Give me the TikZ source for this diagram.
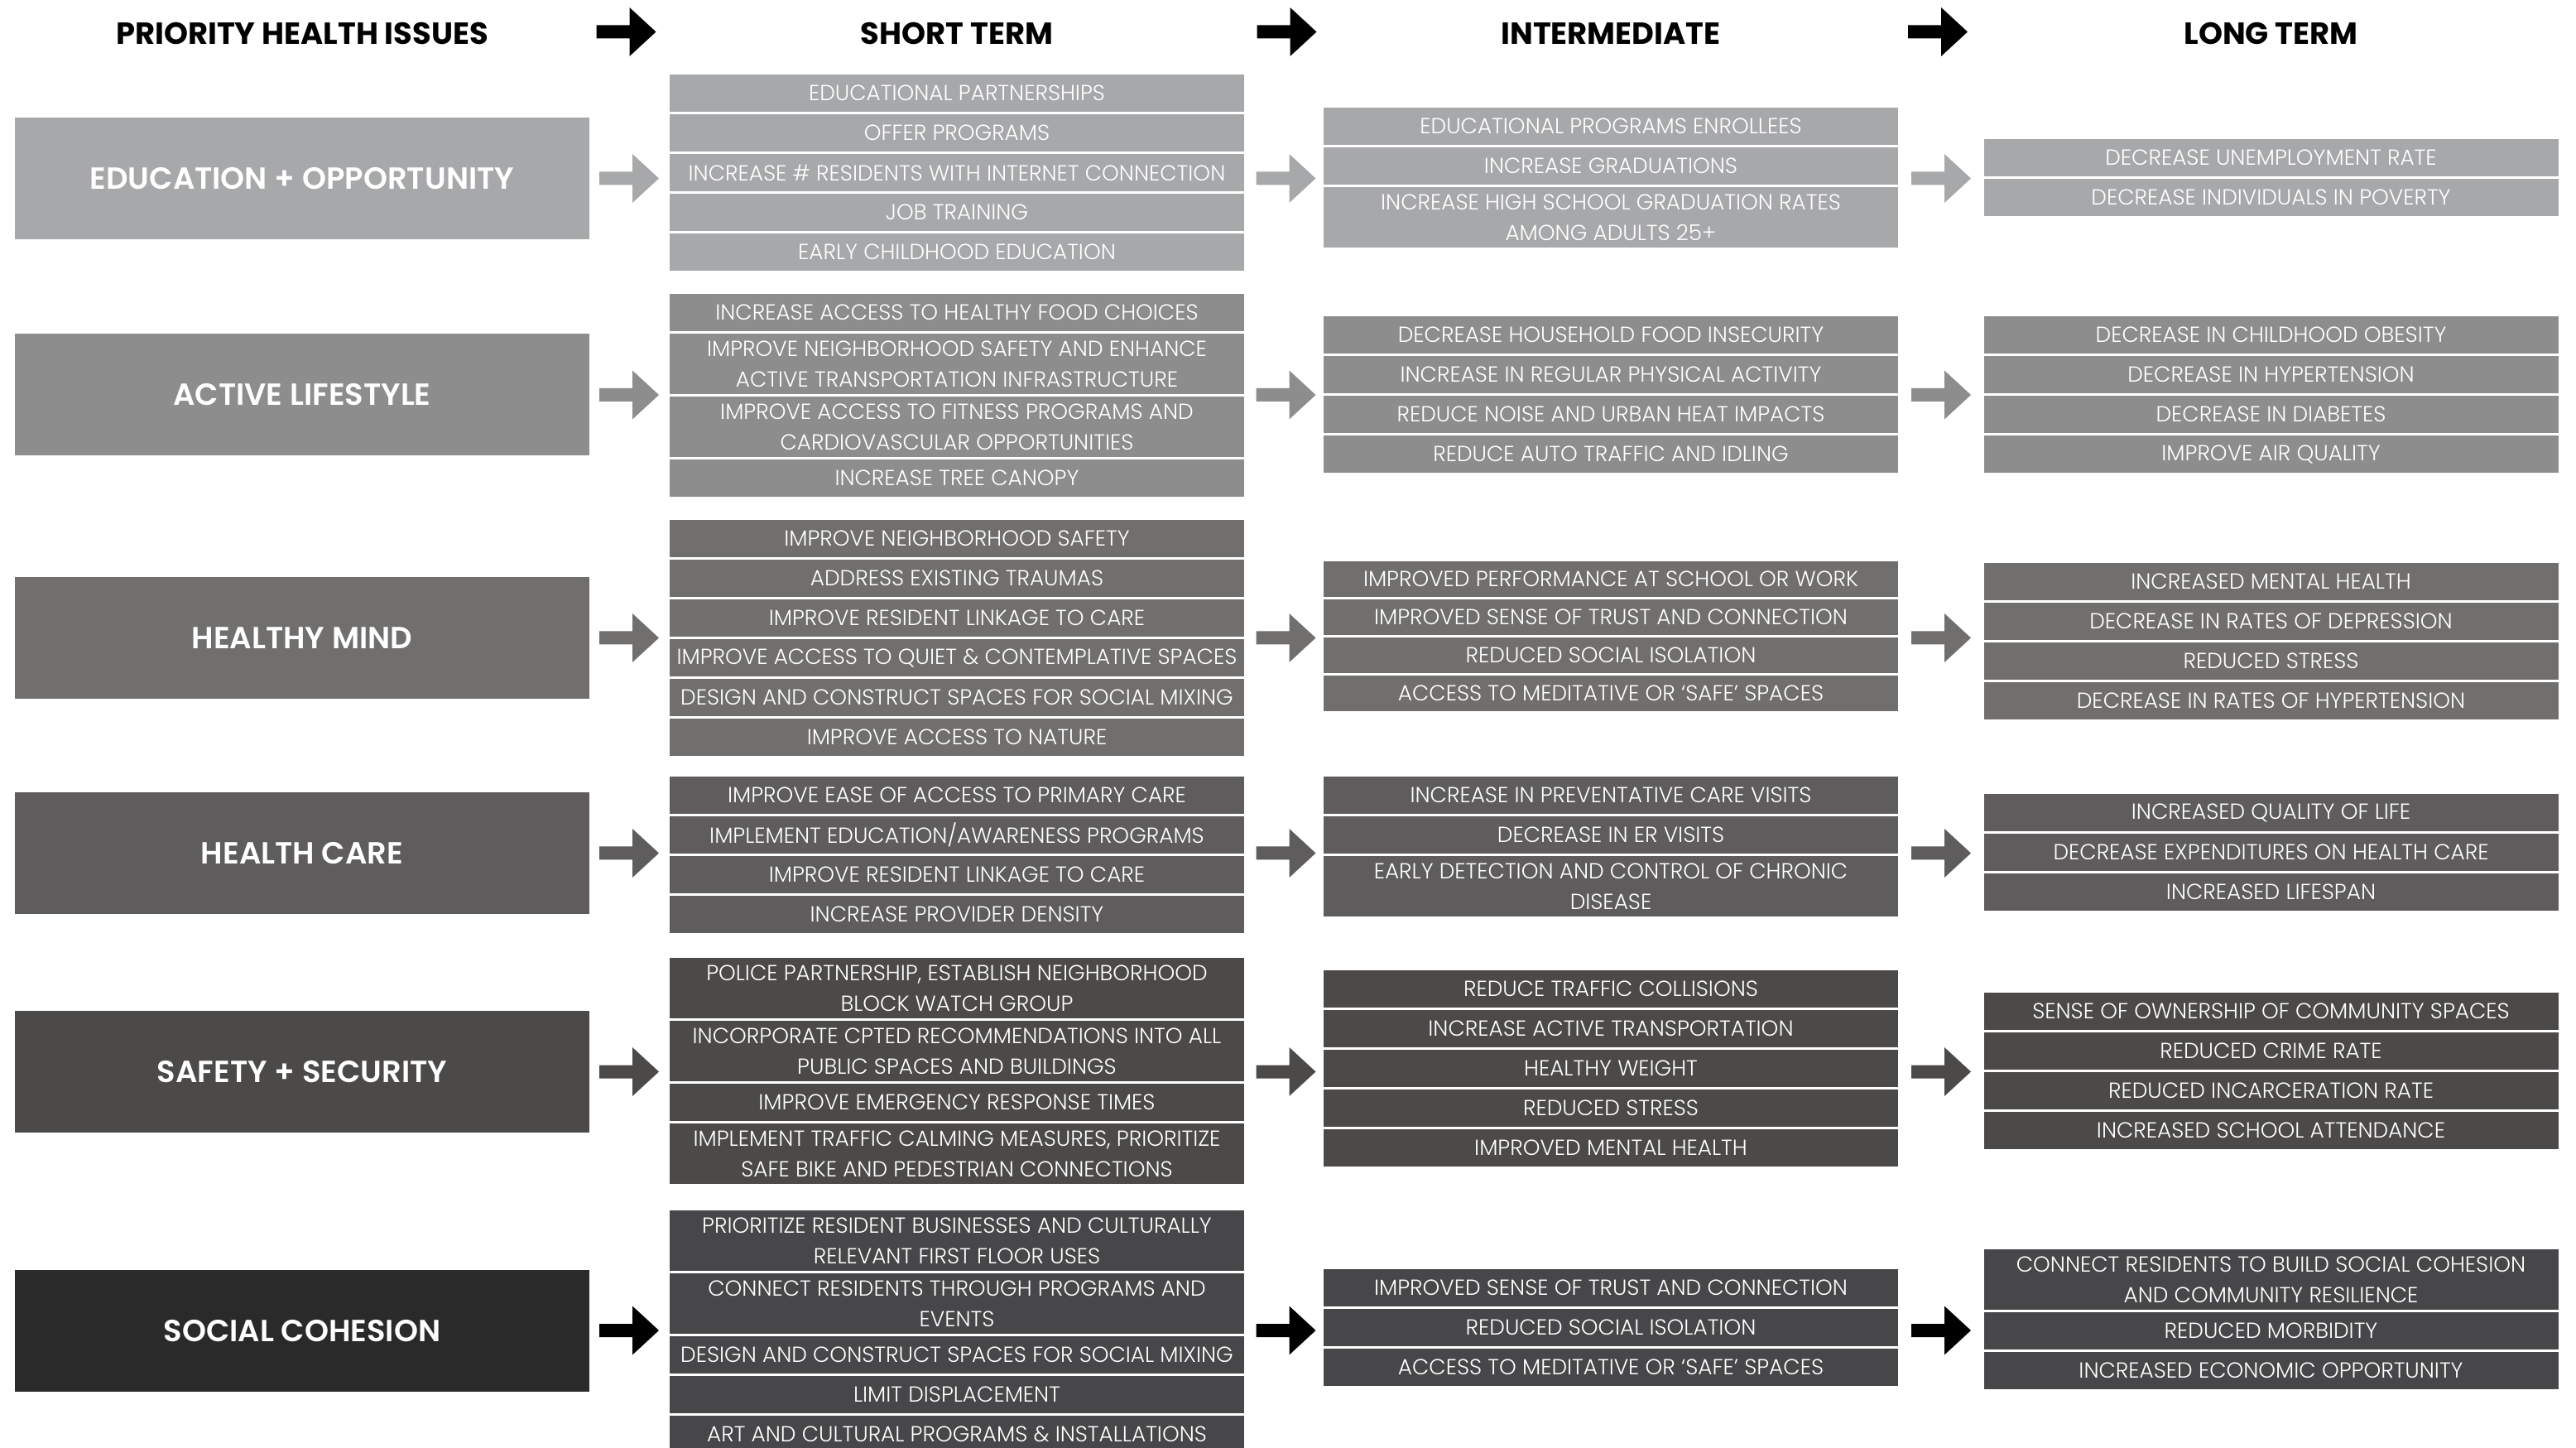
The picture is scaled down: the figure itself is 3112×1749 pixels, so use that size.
\documentclass[tikz,border=0pt]{standalone}
\usepackage{fontspec}
\setmainfont{Poppins}
\usepackage{tikz}

\IfFontExistsTF{Poppins SemiBold}{\newfontface\issuefont{Poppins SemiBold}}{\newcommand{\issuefont}{\bfseries}}
\IfFontExistsTF{Poppins Light}{\newfontface\itemfont{Poppins Light}}{\newcommand{\itemfont}{}}

\definecolor{eduGrey}{HTML}{A7A8AA}
\definecolor{activeGrey}{HTML}{8E8D8E}
\definecolor{mindGrey}{HTML}{706F6D}
\definecolor{careGrey}{HTML}{5E5C5D}
\definecolor{safeGrey}{HTML}{4B4A48}
\definecolor{socialDark}{HTML}{2A2A2A}
\definecolor{socialGrey}{HTML}{474648}

% block arrow centred at (#2,#3)
\newcommand{\blockarrow}[3]{%
  \fill[#1] (#2,#3) ++(-36,-8) -- ++(40,0) -- ++(0,-21.5) -- ++(32,29.5)
    -- ++(-32,29.5) -- ++(0,-21.5) -- ++(-40,0) -- cycle;}

\begin{document}
\begin{tikzpicture}[x=0.1mm, y=-0.1mm,
    issue/.style={fill=#1, text=white, minimum width=69.4mm, minimum height=14.7mm,
      inner sep=0pt, font=\fontsize{10.5}{13}\selectfont\issuefont},
    item/.style={fill=#1, text=white, minimum width=69.4mm, minimum height=4.5mm,
      inner sep=0pt, align=center, font=\fontsize{7.5}{10.5}\selectfont\itemfont},
    tall/.style={minimum height=7.3mm},
    head/.style={font=\fontsize{10.5}{12}\selectfont\bfseries}]

   \useasboundingbox (0,0) rectangle (3112,1749);

   \node[head] at (365,40.5) (H1) {PRIORITY HEALTH ISSUES};
   \node[head] at (1156,40.5) (H2) {SHORT TERM};
   \node[head] at (1946,40.5) (H3) {INTERMEDIATE};
   \node[head] at (2743.5,40.5) (H4) {LONG TERM};
   \blockarrow{black}{756.5}{38.5}
   \blockarrow{black}{1554.5}{38.5}
   \blockarrow{black}{2341}{38.5}

   % education + opportunity
   \node[issue=eduGrey] at (365,215.5) (E) {EDUCATION + OPPORTUNITY};
   \node[item=eduGrey] at (1156,112.5) (Es1) {EDUCATIONAL PARTNERSHIPS};
   \node[item=eduGrey] at (1156,160.5) (Es2) {OFFER PROGRAMS};
   \node[item=eduGrey] at (1156,208.5) (Es3) {INCREASE \# RESIDENTS WITH INTERNET CONNECTION};
   \node[item=eduGrey] at (1156,256.5) (Es4) {JOB TRAINING};
   \node[item=eduGrey] at (1156,304.5) (Es5) {EARLY CHILDHOOD EDUCATION};
   \node[item=eduGrey] at (1946,152.5) (Ei1) {EDUCATIONAL PROGRAMS ENROLLEES};
   \node[item=eduGrey] at (1946,200.5) (Ei2) {INCREASE GRADUATIONS};
   \node[item=eduGrey, tall] at (1946,262.5) (Ei3) {INCREASE HIGH SCHOOL GRADUATION RATES\\AMONG ADULTS 25+};
   \node[item=eduGrey] at (2743.5,190.5) (El1) {DECREASE UNEMPLOYMENT RATE};
   \node[item=eduGrey] at (2743.5,238.5) (El2) {DECREASE INDIVIDUALS IN POVERTY};
   \blockarrow{eduGrey}{760}{215.5}
   \blockarrow{eduGrey}{1553.5}{215.5}
   \blockarrow{eduGrey}{2345}{215.5}

   % active lifestyle
   \node[issue=activeGrey] at (365,477) (A) {ACTIVE LIFESTYLE};
   \node[item=activeGrey] at (1156,377.5) (As1) {INCREASE ACCESS TO HEALTHY FOOD CHOICES};
   \node[item=activeGrey, tall] at (1156,439.5) (As2) {IMPROVE NEIGHBORHOOD SAFETY AND ENHANCE\\ACTIVE TRANSPORTATION INFRASTRUCTURE};
   \node[item=activeGrey, tall] at (1156,515.5) (As3) {IMPROVE ACCESS TO FITNESS PROGRAMS AND\\CARDIOVASCULAR OPPORTUNITIES};
   \node[item=activeGrey] at (1156,577.5) (As4) {INCREASE TREE CANOPY};
   \node[item=activeGrey] at (1946,404.5) (Ai1) {DECREASE HOUSEHOLD FOOD INSECURITY};
   \node[item=activeGrey] at (1946,452.5) (Ai2) {INCREASE IN REGULAR PHYSICAL ACTIVITY};
   \node[item=activeGrey] at (1946,500.5) (Ai3) {REDUCE NOISE AND URBAN HEAT IMPACTS};
   \node[item=activeGrey] at (1946,548.5) (Ai4) {REDUCE AUTO TRAFFIC AND IDLING};
   \node[item=activeGrey] at (2743.5,404.5) (Al1) {DECREASE IN CHILDHOOD OBESITY};
   \node[item=activeGrey] at (2743.5,452.5) (Al2) {DECREASE IN HYPERTENSION};
   \node[item=activeGrey] at (2743.5,500.5) (Al3) {DECREASE IN DIABETES};
   \node[item=activeGrey] at (2743.5,548.5) (Al4) {IMPROVE AIR QUALITY};
   \blockarrow{activeGrey}{760}{477}
   \blockarrow{activeGrey}{1553.5}{477}
   \blockarrow{activeGrey}{2345}{477}

   % healthy mind
   \node[issue=mindGrey] at (365,770.5) (M) {HEALTHY MIND};
   \node[item=mindGrey] at (1156,650.5) (Ms1) {IMPROVE NEIGHBORHOOD SAFETY};
   \node[item=mindGrey] at (1156,698.5) (Ms2) {ADDRESS EXISTING TRAUMAS};
   \node[item=mindGrey] at (1156,746.5) (Ms3) {IMPROVE RESIDENT LINKAGE TO CARE};
   \node[item=mindGrey] at (1156,794.5) (Ms4) {IMPROVE ACCESS TO QUIET \& CONTEMPLATIVE SPACES};
   \node[item=mindGrey] at (1156,842.5) (Ms5) {DESIGN AND CONSTRUCT SPACES FOR SOCIAL MIXING};
   \node[item=mindGrey] at (1156,890.5) (Ms6) {IMPROVE ACCESS TO NATURE};
   \node[item=mindGrey, minimum height=4.3mm] at (1946,699.5) (Mi1) {IMPROVED PERFORMANCE AT SCHOOL OR WORK};
   \node[item=mindGrey, minimum height=4.3mm] at (1946,745.5) (Mi2) {IMPROVED SENSE OF TRUST AND CONNECTION};
   \node[item=mindGrey, minimum height=4.3mm] at (1946,791.5) (Mi3) {REDUCED SOCIAL ISOLATION};
   \node[item=mindGrey, minimum height=4.3mm] at (1946,837.5) (Mi4) {ACCESS TO MEDITATIVE OR ‘SAFE’ SPACES};
   \node[item=mindGrey] at (2743.5,702.5) (Ml1) {INCREASED MENTAL HEALTH};
   \node[item=mindGrey] at (2743.5,750.5) (Ml2) {DECREASE IN RATES OF DEPRESSION};
   \node[item=mindGrey] at (2743.5,798.5) (Ml3) {REDUCED STRESS};
   \node[item=mindGrey] at (2743.5,846.5) (Ml4) {DECREASE IN RATES OF HYPERTENSION};
   \blockarrow{mindGrey}{760}{770.5}
   \blockarrow{mindGrey}{1553.5}{770.5}
   \blockarrow{mindGrey}{2345}{770.5}

   % health care
   \node[issue=careGrey] at (365,1030.5) (C) {HEALTH CARE};
   \node[item=careGrey] at (1156,960.5) (Cs1) {IMPROVE EASE OF ACCESS TO PRIMARY CARE};
   \node[item=careGrey] at (1156,1008.5) (Cs2) {IMPLEMENT EDUCATION/AWARENESS PROGRAMS};
   \node[item=careGrey] at (1156,1056.5) (Cs3) {IMPROVE RESIDENT LINKAGE TO CARE};
   \node[item=careGrey] at (1156,1104.5) (Cs4) {INCREASE PROVIDER DENSITY};
   \node[item=careGrey] at (1946,960.5) (Ci1) {INCREASE IN PREVENTATIVE CARE VISITS};
   \node[item=careGrey] at (1946,1008.5) (Ci2) {DECREASE IN ER VISITS};
   \node[item=careGrey, tall] at (1946,1070.5) (Ci3) {EARLY DETECTION AND CONTROL OF CHRONIC\\DISEASE};
   \node[item=careGrey] at (2743.5,981.5) (Cl1) {INCREASED QUALITY OF LIFE};
   \node[item=careGrey] at (2743.5,1029.5) (Cl2) {DECREASE EXPENDITURES ON HEALTH CARE};
   \node[item=careGrey] at (2743.5,1077.5) (Cl3) {INCREASED LIFESPAN};
   \blockarrow{careGrey}{760}{1030.5}
   \blockarrow{careGrey}{1553.5}{1030.5}
   \blockarrow{careGrey}{2345}{1030.5}

   % safety + security
   \node[issue=safeGrey] at (365,1294.5) (S) {SAFETY + SECURITY};
   \node[item=safeGrey, tall] at (1156,1193.5) (Ss1) {POLICE PARTNERSHIP, ESTABLISH NEIGHBORHOOD\\BLOCK WATCH GROUP};
   \node[item=safeGrey, tall] at (1156,1269.5) (Ss2) {INCORPORATE CPTED RECOMMENDATIONS INTO ALL\\PUBLIC SPACES AND BUILDINGS};
   \node[item=safeGrey] at (1156,1331.5) (Ss3) {IMPROVE EMERGENCY RESPONSE TIMES};
   \node[item=safeGrey, tall] at (1156,1393.5) (Ss4) {IMPLEMENT TRAFFIC CALMING MEASURES, PRIORITIZE\\SAFE BIKE AND PEDESTRIAN CONNECTIONS};
   \node[item=safeGrey] at (1946,1194.5) (Si1) {REDUCE TRAFFIC COLLISIONS};
   \node[item=safeGrey] at (1946,1242.5) (Si2) {INCREASE ACTIVE TRANSPORTATION};
   \node[item=safeGrey] at (1946,1290.5) (Si3) {HEALTHY WEIGHT};
   \node[item=safeGrey] at (1946,1338.5) (Si4) {REDUCED STRESS};
   \node[item=safeGrey] at (1946,1386.5) (Si5) {IMPROVED MENTAL HEALTH};
   \node[item=safeGrey] at (2743.5,1221.5) (Sl1) {SENSE OF OWNERSHIP OF COMMUNITY SPACES};
   \node[item=safeGrey] at (2743.5,1269.5) (Sl2) {REDUCED CRIME RATE};
   \node[item=safeGrey] at (2743.5,1317.5) (Sl3) {REDUCED INCARCERATION RATE};
   \node[item=safeGrey] at (2743.5,1365.5) (Sl4) {INCREASED SCHOOL ATTENDANCE};
   \blockarrow{safeGrey}{760}{1294.5}
   \blockarrow{safeGrey}{1553.5}{1294.5}
   \blockarrow{safeGrey}{2345}{1294.5}

   % social cohesion
   \node[issue=socialDark] at (365,1607.5) (K) {SOCIAL COHESION};
   \node[item=socialGrey, tall] at (1156,1498.5) (Ks1) {PRIORITIZE RESIDENT BUSINESSES AND CULTURALLY\\RELEVANT FIRST FLOOR USES};
   \node[item=socialGrey, tall] at (1156,1574.5) (Ks2) {CONNECT RESIDENTS THROUGH PROGRAMS AND\\EVENTS};
   \node[item=socialGrey] at (1156,1636.5) (Ks3) {DESIGN AND CONSTRUCT SPACES FOR SOCIAL MIXING};
   \node[item=socialGrey] at (1156,1684.5) (Ks4) {LIMIT DISPLACEMENT};
   \node[item=socialGrey] at (1156,1732.5) (Ks5) {ART AND CULTURAL PROGRAMS \& INSTALLATIONS};
   \node[item=socialGrey] at (1946,1555.5) (Ki1) {IMPROVED SENSE OF TRUST AND CONNECTION};
   \node[item=socialGrey] at (1946,1603.5) (Ki2) {REDUCED SOCIAL ISOLATION};
   \node[item=socialGrey] at (1946,1651.5) (Ki3) {ACCESS TO MEDITATIVE OR ‘SAFE’ SPACES};
   \node[item=socialGrey, tall] at (2743.5,1545.5) (Kl1) {CONNECT RESIDENTS TO BUILD SOCIAL COHESION\\AND COMMUNITY RESILIENCE};
   \node[item=socialGrey] at (2743.5,1607.5) (Kl2) {REDUCED MORBIDITY};
   \node[item=socialGrey] at (2743.5,1655.5) (Kl3) {INCREASED ECONOMIC OPPORTUNITY};
   \blockarrow{black}{760}{1607}
   \blockarrow{black}{1553.5}{1607}
   \blockarrow{black}{2345}{1607}
\end{tikzpicture}
\end{document}
